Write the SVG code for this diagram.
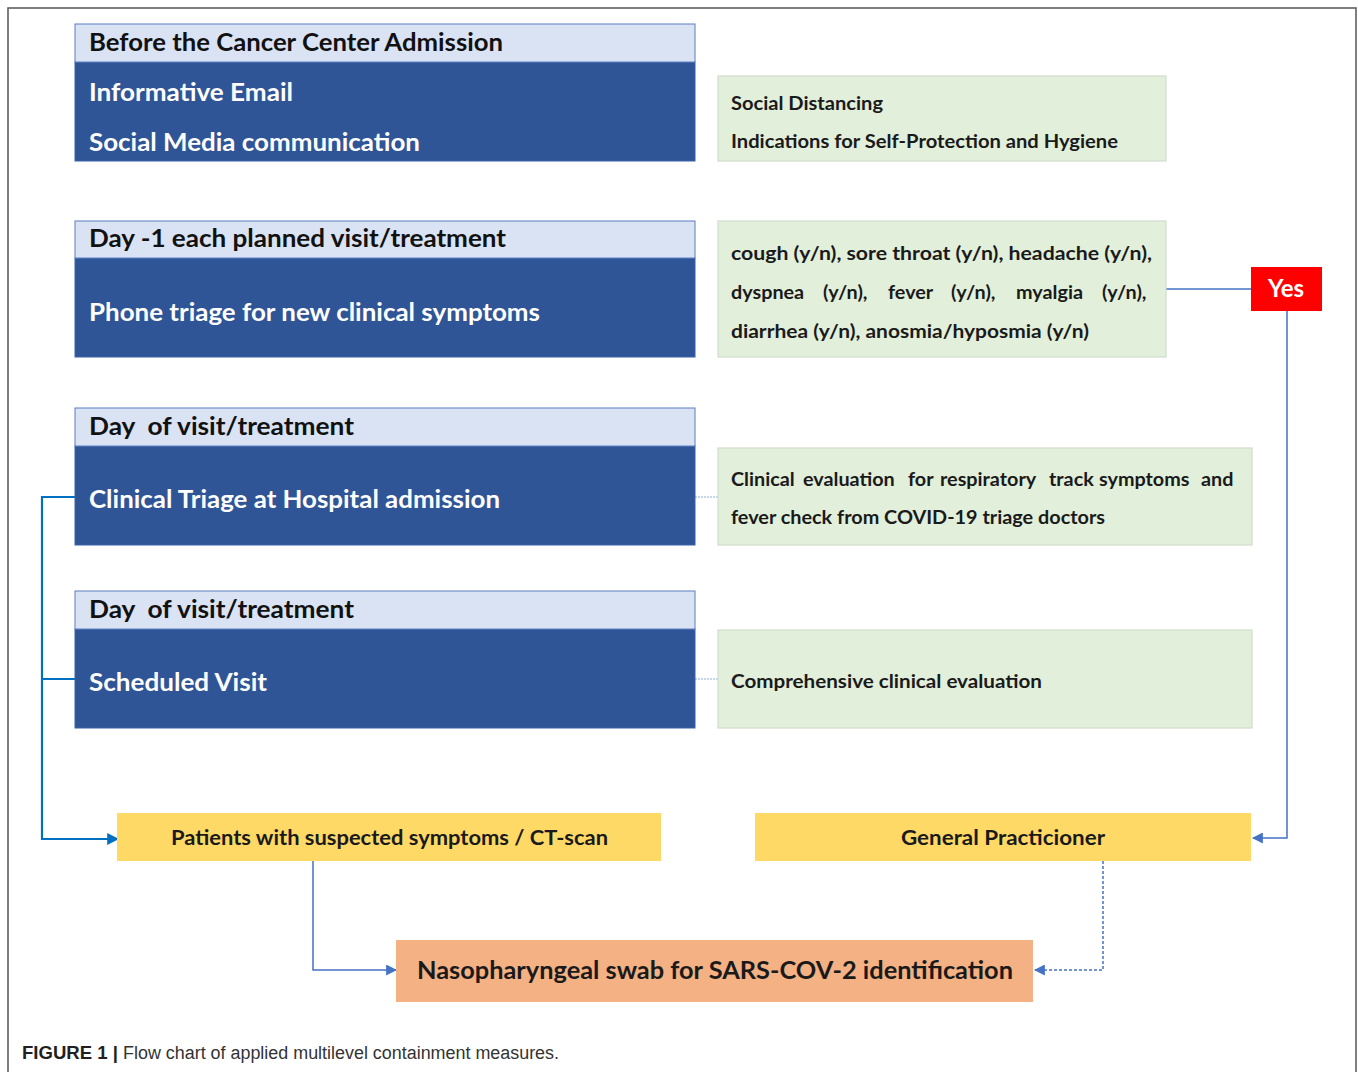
<svg xmlns="http://www.w3.org/2000/svg" width="1358" height="1072" viewBox="0 0 1358 1072">
<style>
.hdr{fill:#DAE3F3;stroke:#5B7FBF;stroke-width:1}
.body{fill:#2F5597;stroke:#3A62A8;stroke-width:1}
.grn{fill:#E2EFDA;stroke:#D3DCCD;stroke-width:1.2}
.yel{fill:#FFD966}
.org{fill:#F4B183}
.red{fill:#FF0000}
text{font-family:Lato,"Open Sans","Liberation Sans",sans-serif;font-weight:700}
.th{font-size:24px;fill:#111}
.tb{font-size:25px;fill:#FFFFFF}
.tg{font-size:19px;fill:#1A1A1A}
.tj{font-size:19.8px;fill:#1A1A1A}
.ty{font-size:20px;fill:#1A1A1A}
.to{font-size:24px;fill:#1A1A1A}
.tyes{font-size:24px;fill:#FFFFFF}
.cap{font-family:"Liberation Sans",Arial,sans-serif;font-size:18px;fill:#333}
.c1{fill:none;stroke:#4472C4;stroke-width:1.5}
.c2{fill:none;stroke:#0070C0;stroke-width:2.2}
.c3{fill:none;stroke:#8FAADC;stroke-width:1;stroke-dasharray:2 1}
.c4{fill:none;stroke:#4472C4;stroke-width:1.5;stroke-dasharray:3 2}
</style>
<defs>
<marker id="ah" viewBox="0 0 10 10" refX="9" refY="5" markerWidth="11" markerHeight="11" markerUnits="userSpaceOnUse" orient="auto">
<path d="M0,0 L10,5 L0,10 z" fill="#4472C4"/>
</marker>
<marker id="ah2" viewBox="0 0 10 10" refX="9" refY="5" markerWidth="12" markerHeight="12" markerUnits="userSpaceOnUse" orient="auto">
<path d="M0,0 L10,5 L0,10 z" fill="#0070C0"/>
</marker>
</defs>
<rect x="0" y="0" width="1358" height="1072" fill="#FFFFFF"/>
<path d="M8,1072 V8 H1356 V1072" fill="none" stroke="#555" stroke-width="1.5"/>

<g id="connectors">
<line class="c1" x1="1166" y1="289" x2="1251" y2="289"/>
<path class="c1" d="M1287,311 V838 H1253" marker-end="url(#ah)"/>
<line class="c3" x1="695" y1="497" x2="718" y2="497"/>
<line class="c3" x1="695" y1="679" x2="718" y2="679"/>
<path class="c2" d="M75,497 H42 V839 H118" marker-end="url(#ah2)"/>
<path class="c2" d="M75,679 H42"/>
<path class="c1" d="M313,861 V970 H396" marker-end="url(#ah)"/>
<path class="c4" d="M1103,861 V970 H1035" marker-end="url(#ah)"/>
</g>

<g id="before">
<rect class="body" x="75" y="62" width="620" height="99"/>
<rect class="hdr" x="75" y="24" width="620" height="38"/>
<text class="th" x="89" y="51" textLength="414" lengthAdjust="spacingAndGlyphs">Before the Cancer Center Admission</text>
<text class="tb" x="89" y="101" textLength="204" lengthAdjust="spacingAndGlyphs">Informative Email</text>
<text class="tb" x="89" y="151" textLength="331" lengthAdjust="spacingAndGlyphs">Social Media communication</text>
</g>

<g id="social">
<rect class="grn" x="718" y="76" width="448" height="85"/>
<text class="tg" x="731" y="110" textLength="152" lengthAdjust="spacingAndGlyphs">Social Distancing</text>
<text class="tg" x="731" y="148" textLength="387" lengthAdjust="spacingAndGlyphs">Indications for Self-Protection and Hygiene</text>
</g>

<g id="dayminus1">
<rect class="body" x="75" y="258" width="620" height="99"/>
<rect class="hdr" x="75" y="221" width="620" height="37"/>
<text class="th" x="89" y="247" textLength="417" lengthAdjust="spacingAndGlyphs">Day -1 each planned visit/treatment</text>
<text class="tb" x="89" y="321" textLength="451" lengthAdjust="spacingAndGlyphs">Phone triage for new clinical symptoms</text>
</g>

<g id="symptoms">
<rect class="grn" x="718" y="221" width="448" height="136"/>
<text class="tg" x="731" y="260" textLength="421" lengthAdjust="spacingAndGlyphs">cough (y/n), sore throat (y/n), headache (y/n),</text>
<text class="tj" y="299"><tspan x="731">dyspnea</tspan><tspan x="823">(y/n),</tspan><tspan x="888">fever</tspan><tspan x="951">(y/n),</tspan><tspan x="1016">myalgia</tspan><tspan x="1102">(y/n),</tspan></text>
<text class="tg" x="731" y="338" textLength="358" lengthAdjust="spacingAndGlyphs">diarrhea (y/n), anosmia/hyposmia (y/n)</text>
</g>

<g id="yes">
<rect class="red" x="1251" y="267" width="71" height="44"/>
<text class="tyes" x="1286" y="297" text-anchor="middle">Yes</text>
</g>

<g id="clinicaltriage">
<rect class="body" x="75" y="446" width="620" height="99"/>
<rect class="hdr" x="75" y="408" width="620" height="38"/>
<text class="th" x="89" y="435" textLength="265" lengthAdjust="spacingAndGlyphs" xml:space="preserve">Day  of visit/treatment</text>
<text class="tb" x="89" y="508" textLength="411" lengthAdjust="spacingAndGlyphs">Clinical Triage at Hospital admission</text>
</g>

<g id="clinicaleval">
<rect class="grn" x="718" y="448" width="534" height="97"/>
<text class="tj" y="486"><tspan x="731">Clinical</tspan><tspan x="803">evaluation</tspan><tspan x="908">for</tspan><tspan x="940">respiratory</tspan><tspan x="1049">track</tspan><tspan x="1099">symptoms</tspan><tspan x="1201">and</tspan></text>
<text class="tg" x="731" y="524" textLength="374" lengthAdjust="spacingAndGlyphs">fever check from COVID-19 triage doctors</text>
</g>

<g id="scheduled">
<rect class="body" x="75" y="629" width="620" height="99"/>
<rect class="hdr" x="75" y="591" width="620" height="38"/>
<text class="th" x="89" y="618" textLength="265" lengthAdjust="spacingAndGlyphs" xml:space="preserve">Day  of visit/treatment</text>
<text class="tb" x="89" y="691" textLength="178" lengthAdjust="spacingAndGlyphs">Scheduled Visit</text>
</g>

<g id="comprehensive">
<rect class="grn" x="718" y="630" width="534" height="98"/>
<text class="tg" x="731" y="688" textLength="311" lengthAdjust="spacingAndGlyphs">Comprehensive clinical evaluation</text>
</g>

<g id="patients">
<rect class="yel" x="117" y="813" width="544" height="48"/>
<text class="ty" x="171" y="845" textLength="437" lengthAdjust="spacingAndGlyphs">Patients with suspected symptoms / CT-scan</text>
</g>

<g id="gp">
<rect class="yel" x="755" y="813" width="496" height="48"/>
<text class="ty" x="901" y="845" textLength="204" lengthAdjust="spacingAndGlyphs">General Practicioner</text>
</g>

<g id="swab">
<rect class="org" x="396" y="940" width="637" height="62"/>
<text class="to" x="417" y="979" textLength="596" lengthAdjust="spacingAndGlyphs">Nasopharyngeal swab for SARS-COV-2 identification</text>
</g>

<text class="cap" y="1059"><tspan x="22" font-weight="700" fill="#231F20" textLength="96" lengthAdjust="spacingAndGlyphs">FIGURE 1 |</tspan><tspan x="123" font-weight="400" textLength="436" lengthAdjust="spacingAndGlyphs">Flow chart of applied multilevel containment measures.</tspan></text>
</svg>
